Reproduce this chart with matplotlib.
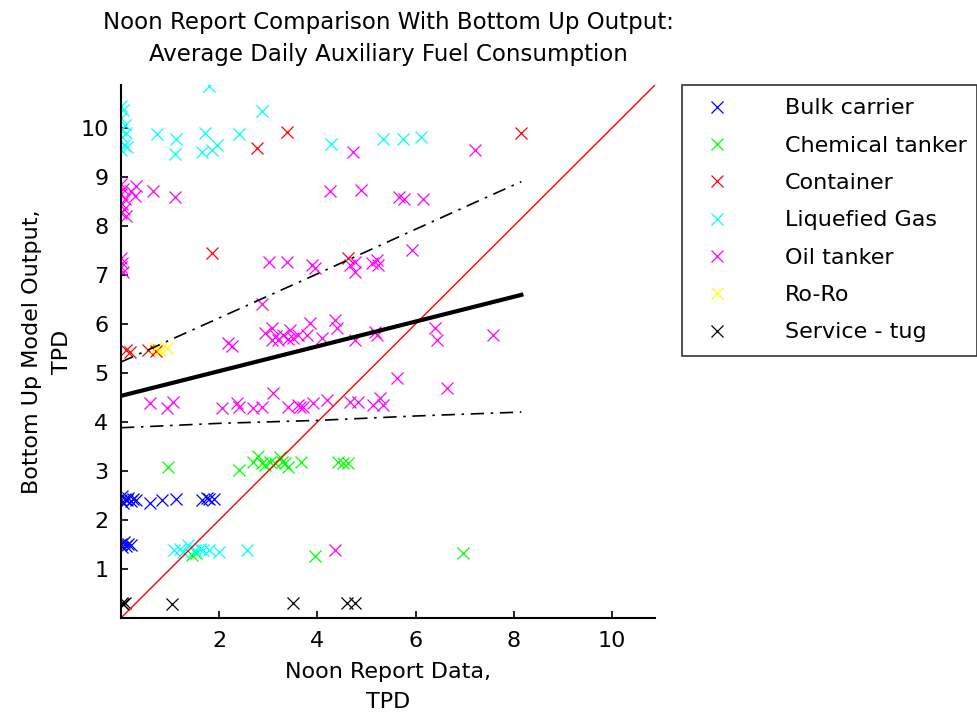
import matplotlib
matplotlib.use("Agg")
import matplotlib.pyplot as plt

plt.rcParams['font.family'] = ['DejaVu Sans']

# series (x = noon report TPD, y = bottom up TPD)
bulk_x = [0, 0.02, 0.05, 0.08, 0.12, 0.15, 0.2, 0.25, 0.3, 0.6, 0.83, 1.13, 1.65, 1.75, 1.8, 1.9,
          0, 0.03, 0.06, 0.1, 0.15, 0.2]
bulk_y = [2.4, 2.48, 2.35, 2.42, 2.4, 2.45, 2.38, 2.42, 2.4, 2.35, 2.4, 2.42, 2.4, 2.44, 2.42, 2.42,
          1.5, 1.45, 1.55, 1.47, 1.5, 1.48]

chem_x = [0.96, 2.4, 2.69, 2.79, 2.87, 2.93, 3.03, 3.14, 3.24, 3.28, 3.34, 3.4, 3.67,
          4.42, 4.52, 4.62, 1.45, 1.52, 3.95, 6.97]
chem_y = [3.08, 3.02, 3.18, 3.31, 3.16, 3.12, 3.18, 3.16, 3.29, 3.18, 3.16, 3.08, 3.18,
          3.18, 3.16, 3.16, 1.29, 1.32, 1.27, 1.33]

cont_x = [0.1, 0.18, 0.55, 0.72, 1.85, 2.77, 3.38, 4.62, 8.15]
cont_y = [5.47, 5.42, 5.47, 5.45, 7.45, 9.59, 9.92, 7.35, 9.9]

gas_x = [0, 0.05, 0, 0.08, 0, 0.1, 0.03, 0.06, 0, 0.12, 0.73, 1.12, 1.1, 1.71, 1.65, 1.85, 1.96,
         1.79, 2.4, 2.87, 4.28, 5.34, 5.74, 6.11,
         1.08, 1.2, 1.27, 1.37, 1.5, 1.6, 1.67, 1.8, 2.0, 2.57]
gas_y = [10.45, 10.35, 10.2, 10.05, 9.95, 9.9, 9.8, 9.65, 9.55, 9.6, 9.88, 9.76, 9.47, 9.9, 9.51,
         9.55, 9.65, 10.85, 9.88, 10.33, 9.67, 9.76, 9.76, 9.8,
         1.39, 1.41, 1.35, 1.49, 1.38, 1.4, 1.38, 1.38, 1.35, 1.39]

oil_x = [0, 0.05, 0, 0.08, 0.02, 0.06, 0, 0.1, 0.3, 0.28, 0.2,
         0, 0.03, 0, 0.05,
         0.65, 1.1, 4.26, 4.72, 4.89, 5.66, 5.76, 6.15, 7.21, 5.93,
         3.01, 3.38, 3.89, 3.95, 4.66, 4.77, 4.77, 5.11, 5.21, 5.23,
         2.87, 2.18, 2.25,
         2.93, 3.08, 3.08, 3.2, 3.3, 3.44, 3.5, 3.6, 3.79, 3.85, 4.09, 4.36, 4.4, 4.77, 5.17, 5.21,
         3.15, 3.4,
         0.6, 0.94, 1.06, 2.06, 2.36, 2.4, 2.69, 2.87, 3.1, 3.4, 3.6, 3.71, 3.91, 4.2, 4.66, 4.83,
         5.13, 5.27, 5.34, 3.65,
         6.4, 6.44, 7.58, 5.62, 6.64, 4.36]
oil_y = [8.85, 8.75, 8.65, 8.55, 8.45, 8.35, 8.25, 8.2, 8.8, 8.6, 8.7,
         7.35, 7.25, 7.15, 7.05,
         8.7, 8.59, 8.7, 9.51, 8.73, 8.59, 8.55, 8.55, 9.55, 7.51,
         7.27, 7.27, 7.2, 7.14, 7.2, 7.06, 7.27, 7.24, 7.3, 7.2,
         6.41, 5.61, 5.55,
         5.82, 5.92, 5.67, 5.67, 5.78, 5.88, 5.71, 5.78, 5.78, 6.02, 5.71, 6.08, 5.92, 5.67, 5.84, 5.78,
         5.75, 5.7,
         4.39, 4.29, 4.41, 4.29, 4.39, 4.31, 4.29, 4.31, 4.59, 4.31, 4.35, 4.31, 4.39, 4.45, 4.41, 4.41,
         4.35, 4.49, 4.35, 4.3,
         5.92, 5.67, 5.78, 4.9, 4.69, 1.39]

roro_x = [0.69, 0.79, 0.94]
roro_y = [5.51, 5.47, 5.51]

tug_x = [0.02, 0.05, 0.08, 1.04, 3.5, 4.6, 4.77]
tug_y = [0.31, 0.28, 0.3, 0.29, 0.3, 0.3, 0.3]

# fitted line and bands
fit_x = [0, 8.15]
fit_y = [4.53, 6.59]
band_x = [0, 2, 4, 6, 8.15]
band_hi = [5.22, 6.12, 7.02, 7.93, 8.9]
band_lo = [3.88, 3.97, 4.03, 4.12, 4.2]

series = [
    ("Bulk carrier", bulk_x, bulk_y, (0, 0, 1)),
    ("Chemical tanker", chem_x, chem_y, (0, 1, 0)),
    ("Container", cont_x, cont_y, (1, 0, 0)),
    ("Liquefied Gas", gas_x, gas_y, (0, 1, 1)),
    ("Oil tanker", oil_x, oil_y, (1, 0, 1)),
    ("Ro-Ro", roro_x, roro_y, (1, 1, 0)),
    ("Service - tug", tug_x, tug_y, (0, 0, 0)),
]

fig = plt.figure(figsize=(9.78, 7.24), dpi=100)
ax = fig.add_axes([0.1237, 0.1464, 0.546, 0.7362])

handles = []
for name, xs, ys, col in series:
    h, = ax.plot(xs, ys, 'x', color=col, markersize=9, markeredgewidth=0.9,
                 linestyle='none', label=name)
    handles.append(h)

lim = 10.87
ax.plot([0, lim], [0, lim], color='red', linewidth=1.0)
ax.plot(fit_x, fit_y, color='black', linewidth=3)
ax.plot(band_x, band_hi, color='black', linewidth=1.2, dashes=(8, 4, 1.5, 4))
ax.plot(band_x, band_lo, color='black', linewidth=1.2, dashes=(8, 4, 1.5, 4))

ax.set_xlim(0, lim)
ax.set_ylim(0, lim)
ax.set_xticks([2, 4, 6, 8, 10])
ax.set_yticks(range(1, 11))
ax.spines['top'].set_visible(False)
ax.spines['right'].set_visible(False)
ax.spines['left'].set_linewidth(1.5)
ax.spines['bottom'].set_linewidth(1.5)
ax.tick_params(direction='in', length=5, width=1.2, labelsize=16, pad=9)

ax.set_title("Noon Report Comparison With Bottom Up Output:\nAverage Daily Auxiliary Fuel Consumption",
             fontsize=16.5, pad=17, linespacing=1.5)
ax.set_xlabel("Noon Report Data,\nTPD", fontsize=16, labelpad=8, linespacing=1.65)
ax.set_ylabel("Bottom Up Model Output,\nTPD", fontsize=16, labelpad=6, linespacing=1.6)

leg = fig.legend(handles=handles, loc='upper left',
                 bbox_to_anchor=(0.697, 0.8826, 0.302, 0.0), mode='expand',
                 fontsize=16, frameon=True, fancybox=False, edgecolor='black',
                 borderaxespad=0, labelspacing=0.78, handletextpad=2.05, handlelength=2.0,
                 borderpad=0.6)
leg.get_frame().set_linewidth(1.2)

plt.savefig("out.png", dpi=100)
